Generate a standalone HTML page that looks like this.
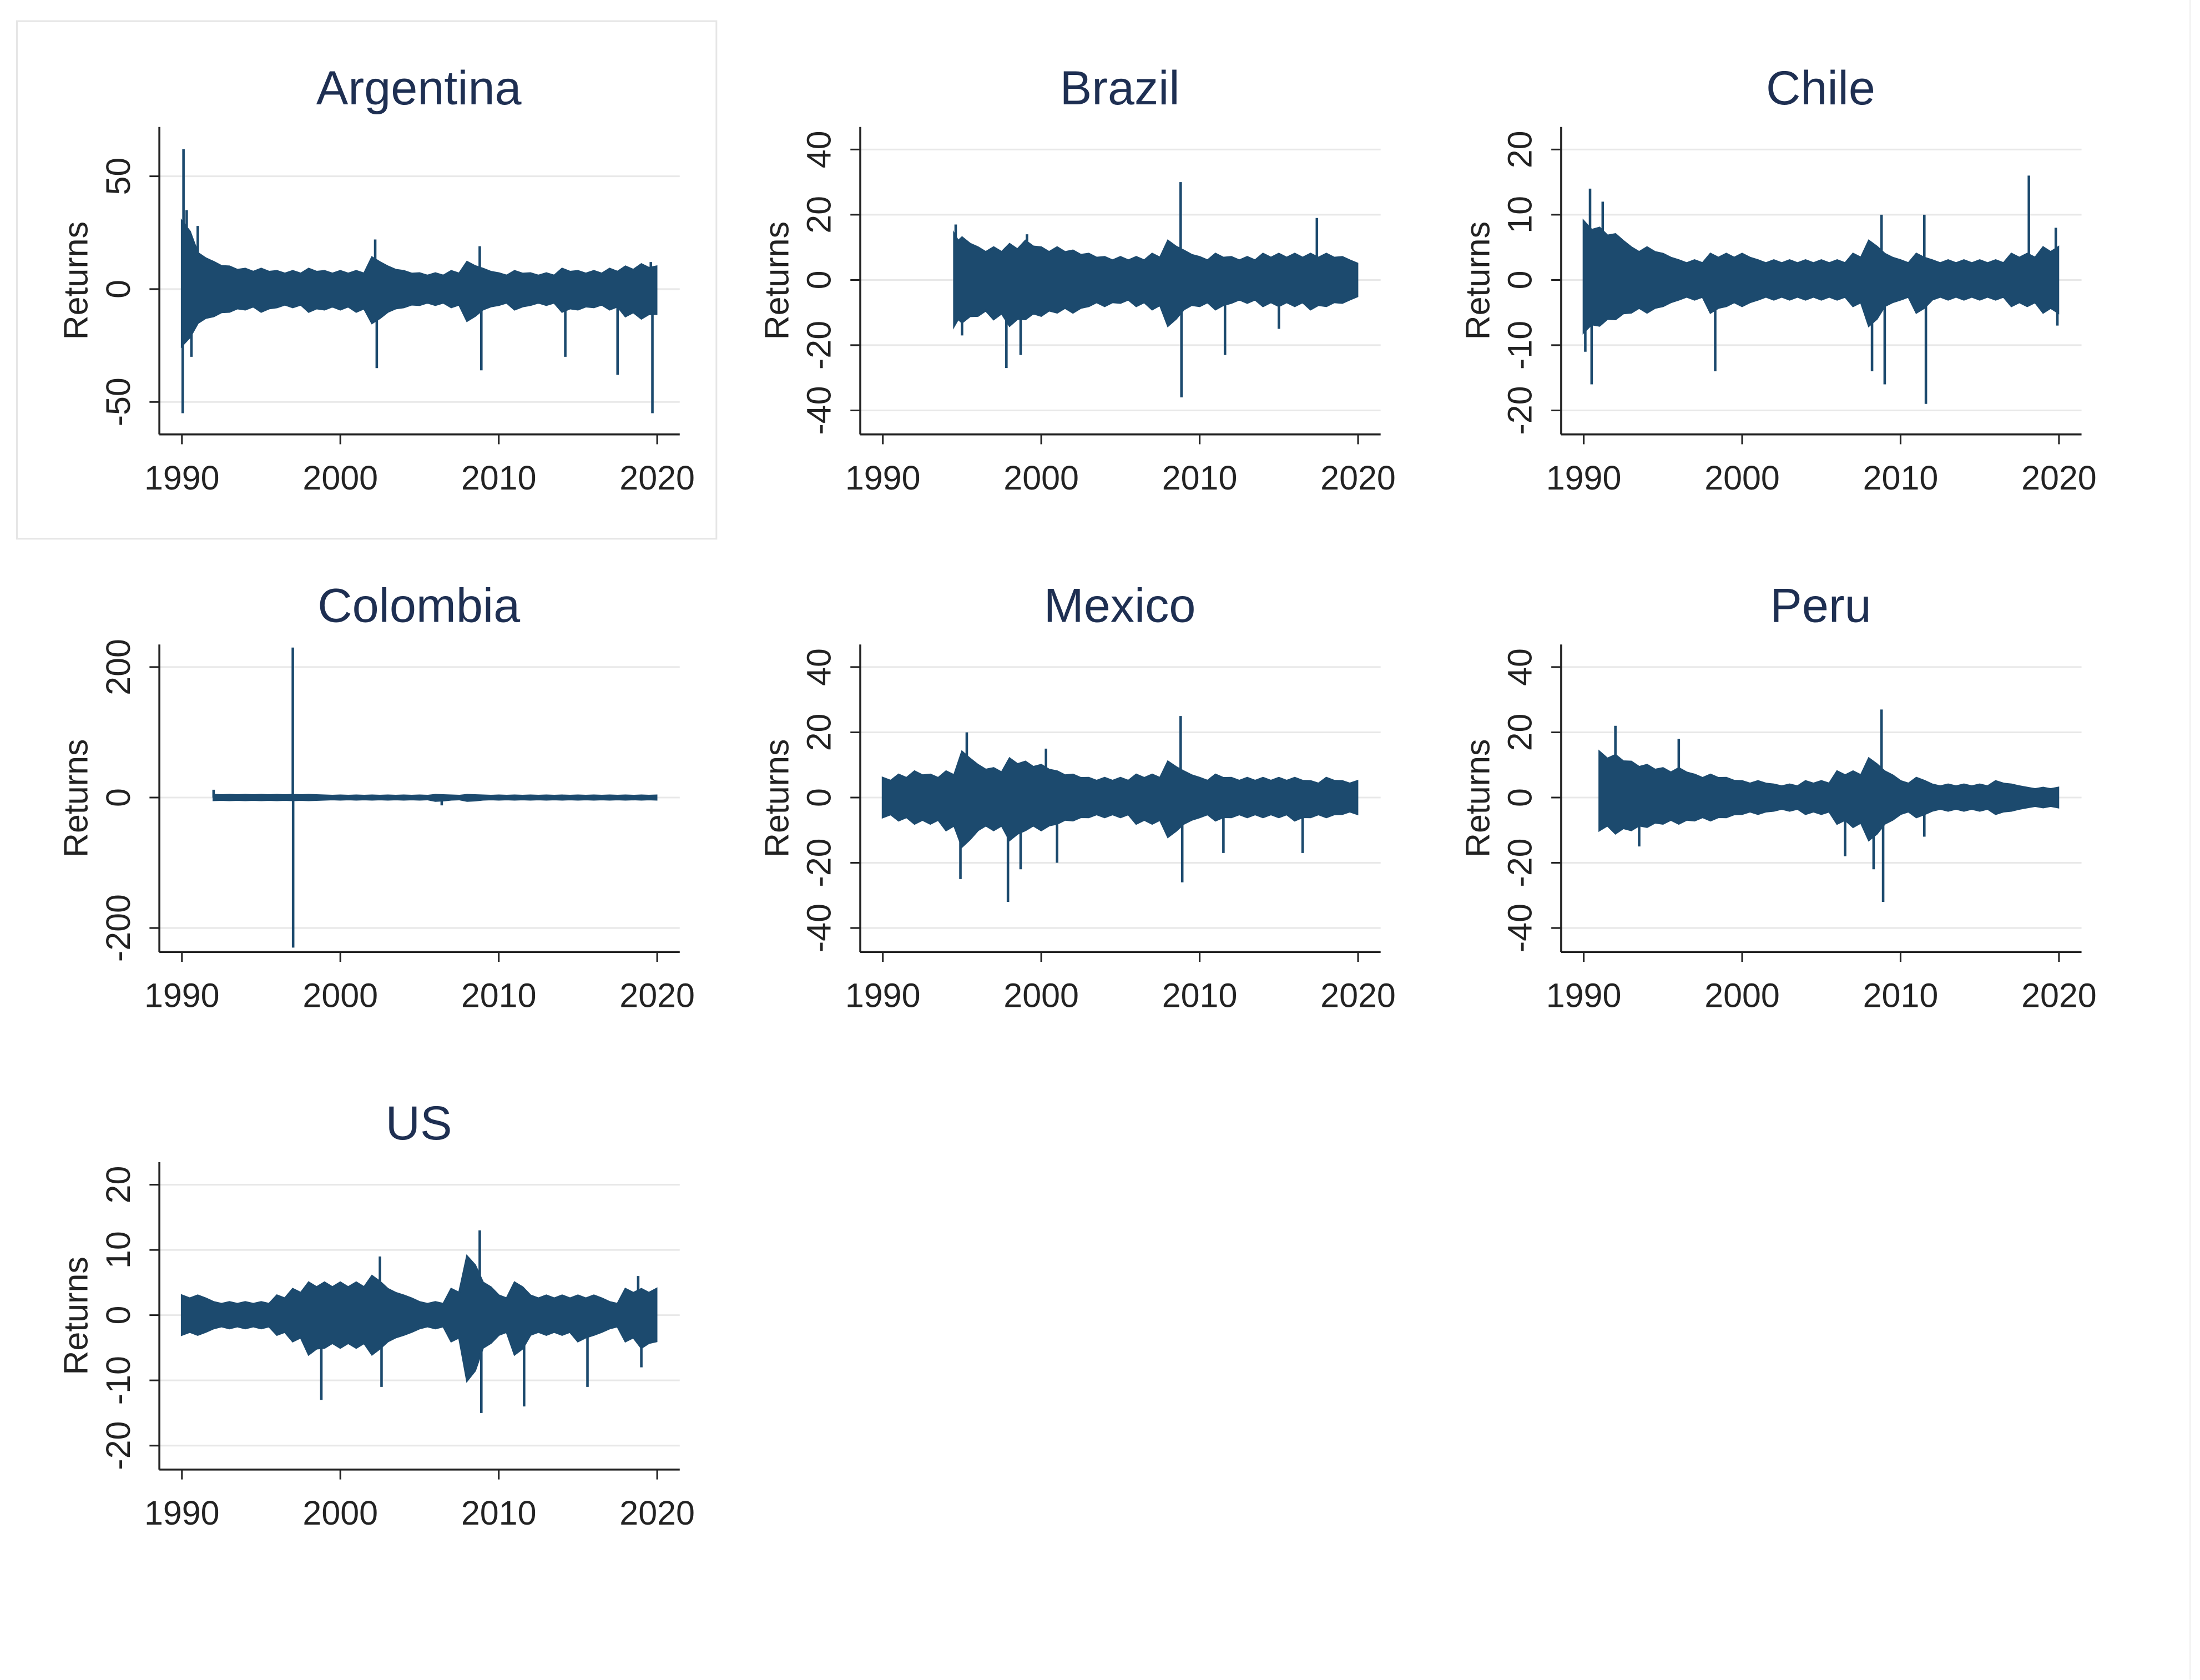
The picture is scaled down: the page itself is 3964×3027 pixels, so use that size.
<!DOCTYPE html>
<html><head><meta charset="utf-8"><style>
html,body{margin:0;padding:0;background:#fff}
svg{display:block}
text{font-family:"Liberation Sans",Arial,sans-serif}
</style></head><body>
<svg id="chart" width="3964" height="3027" viewBox="0 0 1560 1191.2" preserveAspectRatio="none" xmlns="http://www.w3.org/2000/svg">
<rect x="0" y="0" width="1560" height="1192" fill="#fff"/>
<line x1="1553" y1="0" x2="1553" y2="1191" stroke="#f0f0f0" stroke-width="1"/>
<rect x="12" y="15" width="496" height="367" fill="none" stroke="#e6e6e6" stroke-width="1.2"/>
</svg>
<script>
// ---- data (years, values) ----
const years = [1990,1991,1992,1993,1994,1995,1996,1997,1998,1999,2000,2001,2002,2003,2004,2005,2006,2007,2008,2009,2010,2011,2012,2013,2014,2015,2016,2017,2018,2019,2020];
const xTicks = [1990,2000,2010,2020];

const argHi = [30,16,12,10,9,9,8,8,9,8,8,8,14,10,8,7,7,8,12,9,7,8,7,7,9,8,8,9,10,11,10];
const argLo = [-25,-15,-12,-10,-9,-10,-8,-8,-10,-9,-9,-10,-15,-10,-8,-7,-7,-8,-14,-9,-7,-9,-7,-7,-10,-9,-8,-9,-12,-13,-11];
const argSpikes = [[1990.1,62],[1990.05,-55],[1990.3,35],[1991.0,28],[1990.6,-30],[2002.2,22],[2002.3,-35],[2008.8,19],[2008.9,-36],[2014.2,-30],[2017.5,-38],[2019.7,-55],[2019.6,12]];

const braHi = [null,null,null,null,14,13,10,10,11,12,10,10,9,8,7,7,7,8,12,9,7,8,7,7,8,8,8,8,8,7,5];
const braLo = [null,null,null,null,-14,-13,-11,-12,-14,-12,-11,-10,-10,-8,-8,-7,-8,-9,-14,-9,-8,-9,-7,-7,-8,-8,-8,-9,-8,-7,-5];
const braStart = 1994.5;
const braSpikes = [[1994.6,17],[1995.0,-17],[1997.8,-27],[1998.7,-23],[2008.8,30],[2008.85,-36],[2011.6,-23],[2015.0,-15],[2017.4,19],[1999.1,14]];

const chiHi = [9,8,7,5,5,4,3,3,4,4,4,3,3,3,3,3,3,4,6,4,3,4,3,3,3,3,3,4,4,5,5];
const chiLo = [-8,-7,-6,-5,-5,-4,-3,-3,-5,-4,-4,-3,-3,-3,-3,-3,-3,-4,-7,-4,-3,-5,-3,-3,-3,-3,-3,-4,-4,-5,-5];
const chiSpikes = [[1990.1,-11],[1990.4,14],[1990.5,-16],[1991.2,12],[1998.3,-14],[2008.2,-14],[2008.8,10],[2009.0,-16],[2011.6,-19],[2011.5,10],[2018.1,16],[2019.8,8],[2019.9,-7]];

const colHi = [null,null,4,4,4,4,4,4,4,3,3,3,3,3,3,3,4,3,4,3,3,3,3,3,3,3,3,3,3,3,3];
const colLo = [null,null,-4,-4,-4,-4,-4,-4,-4,-3,-3,-3,-3,-3,-3,-3,-5,-3,-5,-3,-3,-3,-3,-3,-3,-3,-3,-3,-3,-3,-3];
const colStart = 1992;
const colSpikes = [[1997.0,230],[1997.02,-230],[1992.0,12],[2006.4,-12]];

const mexHi = [6,7,8,7,8,14,10,9,12,11,10,8,7,6,6,6,7,7,11,8,6,7,6,6,6,6,6,5,6,5,5];
const mexLo = [-6,-7,-8,-8,-10,-15,-10,-10,-13,-10,-10,-8,-7,-6,-6,-6,-8,-8,-12,-8,-6,-7,-6,-6,-6,-6,-7,-6,-6,-5,-5];
const mexSpikes = [[1994.9,-25],[1995.3,20],[1997.9,-32],[1998.7,-22],[2008.8,25],[2008.9,-26],[2001.0,-20],[2011.5,-17],[2016.5,-17],[2000.3,15]];

const perHi = [null,14,13,11,10,9,9,7,7,6,5,5,4,4,5,5,8,8,12,8,5,6,4,4,4,4,5,4,3,3,3];
const perLo = [null,-10,-11,-10,-9,-8,-8,-7,-7,-6,-5,-5,-4,-4,-5,-5,-8,-9,-13,-8,-5,-6,-4,-4,-4,-4,-5,-4,-3,-3,-3];
const perStart = 1991;
const perSpikes = [[1992.0,22],[1993.5,-15],[1996.0,18],[2008.8,27],[2008.9,-32],[2006.5,-18],[2008.3,-22],[2011.5,-12]];

const usHi = [3,3,2,2,2,2,3,4,5,5,5,5,6,4,3,2,2,4,9,5,3,5,3,3,3,3,3,2,4,4,4];
const usLo = [-3,-3,-2,-2,-2,-2,-3,-4,-6,-5,-5,-5,-6,-4,-3,-2,-2,-4,-10,-5,-3,-6,-3,-3,-3,-4,-3,-2,-4,-5,-4];
const usSpikes = [[1998.8,-13],[2002.5,9],[2002.6,-11],[2008.8,13],[2008.9,-15],[2011.6,-14],[2015.6,-11],[2018.8,6],[2019.0,-8]];

const panels = [
 {name:'Argentina',col:0,row:0,ticks:[50,0,-50],tTop:50,tBot:-50,hi:argHi,lo:argLo,start:1990,spikes:argSpikes},
 {name:'Brazil',col:1,row:0,ticks:[40,20,0,-20,-40],tTop:40,tBot:-40,hi:braHi,lo:braLo,start:braStart,spikes:braSpikes},
 {name:'Chile',col:2,row:0,ticks:[20,10,0,-10,-20],tTop:20,tBot:-20,hi:chiHi,lo:chiLo,start:1990,spikes:chiSpikes},
 {name:'Colombia',col:0,row:1,ticks:[200,0,-200],tTop:200,tBot:-200,hi:colHi,lo:colLo,start:colStart,spikes:colSpikes},
 {name:'Mexico',col:1,row:1,ticks:[40,20,0,-20,-40],tTop:40,tBot:-40,hi:mexHi,lo:mexLo,start:1990,spikes:mexSpikes},
 {name:'Peru',col:2,row:1,ticks:[40,20,0,-20,-40],tTop:40,tBot:-40,hi:perHi,lo:perLo,start:perStart,spikes:perSpikes},
 {name:'US',col:0,row:2,ticks:[20,10,0,-10,-20],tTop:20,tBot:-20,hi:usHi,lo:usLo,start:1990,spikes:usSpikes}
];
// ---- drawing ----
const svg = document.getElementById('chart');
const NS = 'http://www.w3.org/2000/svg';
const NAVY = '#1c4a6e';
function mk(tag, attrs, parent){const e=document.createElementNS(NS,tag);for(const k in attrs)e.setAttribute(k,attrs[k]);(parent||svg).appendChild(e);return e;}
const slug = s => s.toLowerCase();

panels.forEach(p=>{
  const dx = p.col*497, dy = p.row*367;
  const g = mk('g',{transform:`translate(${dx},${dy})`});
  
  
  const xs = y => 129 + (y-1990)*(466-129)/30;
  const yTopPx = p.row===0 && p.col===0 ? 125 : 106;
  const yBotPx = p.row===0 && p.col===0 ? 285 : 291;
  const ys = v => yTopPx + (p.tTop - v)*(yBotPx-yTopPx)/(p.tTop-p.tBot);
  const t = mk('text',{x:297,y:74,'text-anchor':'middle','font-size':34,fill:'#1e2f52'},g);
  t.textContent = p.name;
  
  
  p.ticks.forEach(v=>{
    const y = ys(v);
    const gl = mk('line',{x1:113,x2:482,y1:y,y2:y,stroke:'#e8e8e8','stroke-width':1.2},g);
    
    
    mk('line',{x1:106,x2:113,y1:y,y2:y,stroke:'#222','stroke-width':1.2},g);
    const tl = mk('text',{x:0,y:0,transform:`translate(92,${y}) rotate(-90)`,'text-anchor':'middle','font-size':24,fill:'#222'},g);
    tl.textContent = String(v);
    
    
  });
  const yl = mk('text',{x:0,y:0,transform:'translate(62,199) rotate(-90)','text-anchor':'middle','font-size':24,fill:'#222'},g);
  yl.textContent = 'Returns';
  
  
  xTicks.forEach(yr=>{
    const x = xs(yr);
    mk('line',{x1:x,x2:x,y1:308,y2:315,stroke:'#222','stroke-width':1.2},g);
    const xl = mk('text',{x:x,y:347,'text-anchor':'middle','font-size':24,fill:'#222'},g);
    xl.textContent = String(yr);
    
    
  });
  const top=[], bot=[];
  years.forEach((yr,i)=>{
    if(p.hi[i]==null) return;
    const yy = Math.max(yr, p.start);
    top.push([xs(Math.min(yy,2019.95)), ys(p.hi[i])]);
    bot.push([xs(Math.min(yy,2019.95)), ys(p.lo[i])]);
  });
  let pts=[];
  top.forEach((pt,i)=>{pts.push(pt); if(i<top.length-1){const mx=(pt[0]+top[i+1][0])/2; pts.push([mx,(pt[1]+ys(0))/2*0.3+pt[1]*0.7]);}});
  let bpts=[];
  bot.forEach((pt,i)=>{bpts.push(pt); if(i<bot.length-1){const mx=(pt[0]+bot[i+1][0])/2; bpts.push([mx,(pt[1]+ys(0))/2*0.3+pt[1]*0.7]);}});
  const all = pts.concat(bpts.reverse()).map(q=>q[0].toFixed(1)+','+q[1].toFixed(1)).join(' ');
  const band = mk('polygon',{points:all,fill:NAVY,stroke:NAVY,'stroke-width':1.5,'stroke-linejoin':'miter'},g);
  
  
  p.spikes.forEach(s=>{
    const sp = mk('line',{x1:xs(s[0]),x2:xs(s[0]),y1:ys(0),y2:ys(s[1]),stroke:NAVY,'stroke-width':1.8},g);
    
    
  });
  const ya = mk('line',{x1:113,x2:113,y1:90,y2:308,stroke:'#222','stroke-width':1.4},g);
  
  
  const xa = mk('line',{x1:113,x2:482,y1:308,y2:308,stroke:'#222','stroke-width':1.4},g);
  
  
});
</script>
</body></html>
